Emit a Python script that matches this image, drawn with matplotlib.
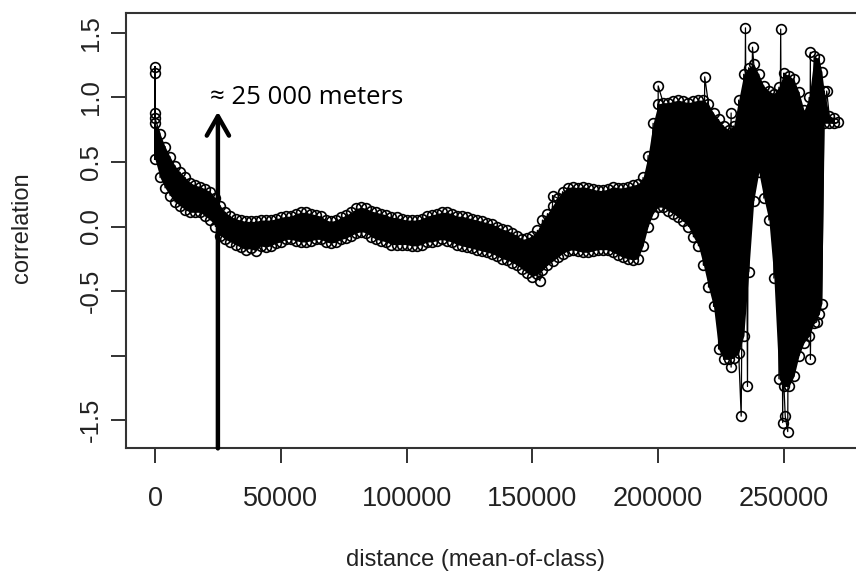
import numpy as np
import matplotlib.pyplot as plt

# distance classes (km) and the upper / lower edge of the point cloud at each class
class_km = [0, 2, 4, 6, 8, 10, 12, 14, 16, 18, 20, 22, 24, 26, 28, 30, 32, 34, 36, 38,
            40, 42, 44, 46, 48, 50, 52, 54, 56, 58, 60, 62, 64, 66, 68, 70, 72, 74, 76, 78,
            80, 82, 84, 86, 88, 90, 92, 94, 96, 98, 100, 102, 104, 106, 108, 110, 112, 114, 116, 118,
            120, 122, 124, 126, 128, 130, 132, 134, 136, 138, 140, 142, 144, 146, 148, 150, 152, 154, 156, 158,
            160, 162, 164, 166, 168, 170, 172, 174, 176, 178, 180, 182, 184, 186, 188, 190, 192, 194, 196, 198,
            200, 202, 204, 206, 208, 210, 212, 214, 216, 218, 220, 222, 224, 226, 228, 230, 232, 234, 236, 238,
            240, 242, 244, 246, 248, 250, 252, 254, 256, 258, 260, 262, 264, 265, 266, 268, 270]

upper = [0.80, 0.72, 0.62, 0.54, 0.47, 0.42, 0.38, 0.34, 0.32, 0.31, 0.29, 0.27, 0.22, 0.16, 0.11, 0.08, 0.06, 0.05, 0.04, 0.04,
         0.04, 0.05, 0.05, 0.05, 0.06, 0.07, 0.08, 0.08, 0.10, 0.11, 0.11, 0.10, 0.09, 0.08, 0.05, 0.04, 0.05, 0.07, 0.09, 0.11,
         0.14, 0.15, 0.14, 0.12, 0.11, 0.10, 0.09, 0.07, 0.07, 0.06, 0.05, 0.05, 0.05, 0.06, 0.08, 0.09, 0.10, 0.11, 0.11, 0.10,
         0.08, 0.08, 0.07, 0.06, 0.05, 0.04, 0.03, 0.02, 0.00, -0.02, -0.03, -0.05, -0.07, -0.10, -0.09, -0.07, -0.03, 0.05, 0.10, 0.16,
         0.22, 0.27, 0.30, 0.31, 0.30, 0.31, 0.30, 0.29, 0.28, 0.28, 0.29, 0.31, 0.30, 0.30, 0.31, 0.32, 0.33, 0.38, 0.55, 0.80,
         0.95, 0.96, 0.96, 0.97, 0.98, 0.97, 0.96, 0.97, 0.98, 0.98, 0.95, 0.88, 0.83, 0.78, 0.75, 0.78, 0.98, 1.18, 1.23, 1.26,
         1.18, 1.09, 1.05, 1.03, 1.08, 1.19, 1.17, 1.14, 1.04, 0.90, 1.00, 1.32, 1.30, 1.20, 1.05, 0.86, 0.84]

lower = [0.52, 0.38, 0.30, 0.24, 0.19, 0.16, 0.13, 0.11, 0.11, 0.11, 0.08, 0.05, 0.00, -0.07, -0.10, -0.12, -0.14, -0.16, -0.18, -0.17,
         -0.19, -0.15, -0.16, -0.15, -0.13, -0.12, -0.10, -0.10, -0.11, -0.12, -0.12, -0.11, -0.10, -0.10, -0.12, -0.13, -0.12, -0.10, -0.09, -0.07,
         -0.05, -0.04, -0.05, -0.08, -0.10, -0.11, -0.12, -0.14, -0.14, -0.14, -0.14, -0.15, -0.15, -0.14, -0.12, -0.12, -0.11, -0.10, -0.11, -0.12,
         -0.14, -0.15, -0.16, -0.17, -0.18, -0.19, -0.20, -0.21, -0.23, -0.25, -0.26, -0.28, -0.30, -0.33, -0.36, -0.39, -0.37, -0.34, -0.30, -0.27,
         -0.24, -0.21, -0.19, -0.18, -0.19, -0.20, -0.20, -0.19, -0.18, -0.18, -0.18, -0.20, -0.22, -0.24, -0.25, -0.26, -0.25, -0.15, 0.00, 0.10,
         0.15, 0.15, 0.12, 0.10, 0.07, 0.04, 0.00, -0.08, -0.15, -0.30, -0.47, -0.62, -0.95, -1.03, -1.03, -1.02, -0.98, -0.85, -0.35, 0.20,
         0.42, 0.22, 0.05, -0.40, -1.18, -1.24, -1.24, -1.16, -1.00, -0.90, -0.85, -0.75, -0.68, -0.60, 0.80, 0.80, 0.80]

# isolated points sticking out of the cloud
spike_km = [0, 0, 0, 0, 153, 158, 200, 218.5, 229, 229, 229, 233, 234.7, 235.5, 237.5,
            248.7, 249.5, 250.5, 251.5, 260.5, 260.5, 263, 267, 271.5]
spike_val = [1.24, 1.19, 0.88, 0.84, -0.42, 0.24, 1.09, 1.16, 0.88, 0.50, -1.09, -1.47, 1.54, -1.24, 1.39,
             1.53, -1.52, -1.47, -1.59, 1.35, -1.03, -0.74, 1.05, 0.81]

xticks = [0, 50000, 100000, 150000, 200000, 250000]
yticks = [-1.5, -1.0, -0.5, 0.0, 0.5, 1.0, 1.5]
ytick_labels = ['-1.5', '', '-0.5', '0.0', '0.5', '1.0', '1.5']

plt.rcParams['font.family'] = ['Liberation Sans', 'DejaVu Sans']

# build the series: both edges at every class, spikes sorted in
pts = []
for k, u, l in zip(class_km, upper, lower):
    pts.append((k * 1000, u))
    pts.append((k * 1000, l))
for k, v in zip(spike_km, spike_val):
    pts.append((k * 1000, v))
pts.sort(key=lambda p: p[0])
px = [p[0] for p in pts]
py = [p[1] for p in pts]

fig = plt.figure(figsize=(8.56, 5.79), dpi=100)
ax = fig.add_axes([126 / 856, 1 - 448 / 579, 744 / 856, 435 / 579])

cx = np.array(class_km) * 1000
ax.fill_between(cx, lower, upper, color='black', lw=0, zorder=2)
ax.plot(px, py, '-', color='black', lw=0.9, zorder=3)
ax.plot(px, py, 'o', mfc='none', mec='black', ms=7, mew=1.2, zorder=4)

ax.annotate('', xy=(25000, 0.89), xytext=(25000, -1.72),
            arrowprops=dict(arrowstyle='->,head_length=0.7,head_width=0.4',
                            lw=3.2, color='black', mutation_scale=20,
                            shrinkA=0, shrinkB=0), zorder=5)
ax.text(21800, 1.0, '\u2248 25 000 meters', ha='left', va='center', fontsize=18.5,
        family=['Open Sans', 'DejaVu Sans'], zorder=6)

ax.set_xlim(-11528, 284200)
ax.set_ylim(-1.717, 1.655)

ax.set_xticks(xticks)
ax.set_xticklabels([str(t) for t in xticks])
ax.set_yticks(yticks)
ax.set_yticklabels(ytick_labels)
ax.tick_params(axis='x', length=11, width=1.3, pad=16, labelsize=19.5, colors='#222222')
ax.tick_params(axis='y', length=11, width=1.3, pad=5.5, labelsize=18.5, colors='#222222',
               labelrotation=90)
for t in ax.get_yticklabels():
    t.set_va('center')

for s in ax.spines.values():
    s.set_linewidth(1.5)
    s.set_color('#333333')

fig.text(475 / 856, 1 - 560 / 579, 'distance (mean-of-class)', ha='center', va='center',
         fontsize=17, color='#222222')
fig.text(22 / 856, 1 - 228 / 579, 'correlation', ha='center', va='center', rotation=90,
         fontsize=17, color='#222222')

fig.savefig('out.png', dpi=100)
